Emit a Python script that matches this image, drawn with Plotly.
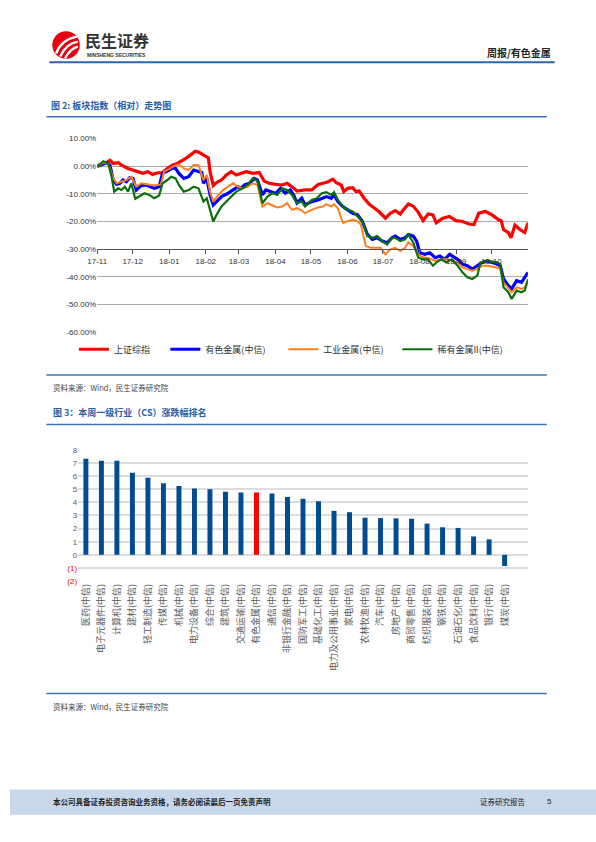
import pandas as pd
import plotly.graph_objects as go

W, H = 596, 842


def fx(x):
    return x / W


def fy(y):
    return 1 - y / H


# ---------------- Chart 1 data (days since 2017-11-01, relative % change) ----------------
start_date = "2017-11-01"

sh_days = [0, 8.1, 10.8, 13.6, 17.8, 20.6, 26.1, 30.3, 34.4, 38.6, 42.8, 46.9, 51.1, 55.3, 59.4, 63.6,
           67.8, 70.6, 74.7, 78.9, 83.1, 85.8, 88.6, 91.4, 94.2, 95.6, 98.3, 101.1, 105.3, 109.4, 113.6,
           117.8, 121.9, 126.1, 131.7, 137.2, 141.4, 145.6, 151.1, 156.7, 160.8, 165, 169.2, 173.3,
           176.1, 181.7, 187.2, 192.8, 195.6, 199.7, 202.5, 206.7, 208.9, 212.2, 216.4, 219.2, 221.9,
           226.1, 230.3, 234.4, 238.6, 244.2, 248.3, 252.5, 256.7, 259.4, 263.6, 267.8, 271.9, 276.1,
           280.3, 284.4, 287.2, 292.8, 298.3, 303.9, 309.4, 315, 319.2, 323.3, 328.9, 334.4, 340,
           342.2, 344.2, 348.3, 350.6, 353.9, 358.1, 362.2, 365]
sh_vals = [0, 1.3, 2.1, 1.0, 1.3, 0.4, -0.8, -1.4, -2.0, -2.6, -2.0, -3.0, -2.4, -2.3, -0.8, 0.4,
           1.0, 1.6, 2.7, 4.0, 5.4, 5.1, 4.3, 3.7, 3.0, -2.0, -7.0, -5.9, -5.0, -3.2, -2.0,
           -3.2, -2.6, -2.0, -2.6, -2.3, -5.4, -6.2, -6.6, -6.8, -6.2, -7.4, -9.0, -8.6,
           -8.6, -8.6, -6.6, -6.0, -5.6, -4.7, -6.0, -6.8, -9.2, -8.0, -7.8, -9.2, -9.0,
           -11.6, -13.7, -15.0, -16.4, -18.8, -17.0, -16.1, -17.3, -15.8, -13.7, -14.5, -16.6, -19.7,
           -17.3, -17.6, -20.5, -18.8, -18.2, -19.7, -20.0, -20.9, -21.1, -17.0, -16.4, -17.6, -19.4,
           -19.7, -22.9, -24.0, -25.9, -21.3, -22.9, -24.0, -20.5]

nf_days = [0, 5.3, 8.1, 10.8, 13.6, 16.4, 19.2, 21.9, 24.7, 27.5, 30.3, 33.1, 37.2, 41.4, 45.6, 48.3,
           52.5, 55.3, 59.4, 63.6, 66.4, 69.2, 73.3, 77.5, 81.7, 85.8, 88.6, 90, 92.8, 95.6, 98.3,
           101.1, 105.3, 110.8, 115, 119.2, 121.9, 124.7, 128.9, 133.1, 135.8, 140, 142.8, 146.9,
           151.1, 155.3, 159.4, 163.6, 166.4, 169.2, 173.3,
           176.1, 181.7, 187.2, 191.4, 194.2, 198.3, 200.6, 203.9, 208.1, 212.2, 216.4, 220.6, 224.7,
           228.9, 233.1, 237.2, 241.4, 245.6, 249.7, 252.5, 256.7, 260.8, 263.6, 267.8,
           270.6, 273.3, 277.5, 281.7, 286.4, 290.3, 294.2, 298.6, 302.5, 305.3, 309.4, 313.6, 317.8,
           322, 326.1, 330.3, 334.4, 338.6, 341.4, 344.2, 348.3, 351.1, 355.3, 359.4, 362.2, 365]
nf_vals = [0, 1.0, 1.3, 0.4, -5.0, -6.6, -6.2, -5.0, -5.6, -4.2, -4.4, -8.6, -7.0, -6.8, -7.4, -8.0,
           -7.4, -2.6, -1.8, -0.6, -0.8, -2.6, -4.4, -3.8, -1.4, -2.0, -2.3, -6.2, -4.4, -10.4, -14.0,
           -12.8, -11.0, -9.8, -8.6, -7.4, -8.0, -6.8, -6.2, -4.4, -5.0, -10.4, -8.6, -9.2,
           -9.8, -8.0, -9.8, -8.6, -10.4, -13.3, -11.6,
           -14.0, -12.8, -12.2, -11.4, -11.0, -11.6, -10.4, -12.8, -14.6, -15.8, -17.0, -17.6, -20.0,
           -24.7, -26.5, -25.9, -27.1, -27.7, -25.9, -25.3, -26.5, -25.9, -24.7, -25.3,
           -27.1, -31.3, -31.9, -31.3, -33.1, -32.5, -33.7, -31.9, -33.1, -33.7, -35.4, -36.0, -37.2,
           -36.0, -34.8, -34.3, -34.8, -35.4, -36.0, -40.8, -43.2, -44.4, -41.4, -42.0, -40.2, -38.4]

im_days = [0, 5.3, 9.4, 13.6, 16.4, 20.6, 24.7, 28.9, 33.1, 37.2, 42.8, 48.3, 53.9, 56.7, 60.8, 65,
           69.2, 73.3, 77.5, 81.7, 85.8, 90, 92.8, 95.6, 98.3, 102.5, 106.7, 110.8, 115, 119.2,
           123.3, 127.5, 131.7, 135.8, 140, 144.2, 148.3, 152.5, 156.7, 160.8, 165, 169.2, 173.3,
           176.1, 181.7, 187.2, 191.4, 194.2, 198.3, 200.6, 203.9, 208.1, 212.2, 216.4, 220.6, 223.3,
           227.5, 231.7, 235.8, 240, 244.2, 248.3, 252.5, 256.7, 260.8, 263.6,
           267.8, 272, 276.1, 280.3, 286.4, 291.4, 297.5, 302.5, 305.3, 309.4, 313.6, 317.8, 322,
           326.1, 330.3, 334.4, 338.6, 341.4, 344.2, 348.3, 351.1, 355.3, 359.4, 362.2, 365]
im_vals = [0, 1.3, 1.0, -4.4, -6.2, -5.6, -5.0, -3.8, -7.4, -6.2, -6.6, -7.0, -6.6, -2.0, -1.1, 0.1,
           0.6, -0.8, -1.4, 0.4, 0.4, -5.0, -3.2, -9.2, -12.8, -10.4, -8.6, -7.4, -6.2, -7.4,
           -8.0, -7.4, -6.2, -6.8, -14.6, -13.4, -14.0, -14.9, -14.6, -13.4, -15.8, -15.2, -16.1,
           -17.0, -15.8, -14.9, -14.6, -13.7, -14.6, -13.7, -15.3, -20.5, -19.9, -19.4, -19.9, -21.1,
           -28.9, -29.5, -29.5, -29.5, -31.9, -30.1, -29.5, -30.7, -29.5, -27.5,
           -28.9, -31.9, -33.1, -33.1, -34.3, -33.7, -33.7, -34.3, -34.8, -36.6, -37.2, -37.8, -37.2,
           -36.0, -36.0, -36.4, -36.6, -36.9, -42.0, -44.4, -45.6, -43.8, -44.4, -43.8, -41.4]

rm_days = [0, 5.3, 9.4, 12.2, 14.4, 17.8, 20.6, 23.3, 26.1, 28.9, 32.2, 35.8, 40, 44.2, 48.3, 52.5,
           55.3, 59.4, 62.8, 66.4, 69.2, 73.3, 77.5, 81.7, 85.8, 90, 92.8, 95.6, 98.3, 101.1,
           105.3, 109.4, 113.6, 117.8, 123.3, 127.5, 131.7, 135.8, 140, 144.2, 148.3, 152.5, 156.7,
           160.8, 165, 169.2, 173.3,
           176.1, 181.7, 186.1, 190.3, 194.2, 198.3, 200.6, 203.9, 208.1, 212.2, 216.4, 220.6, 224.7,
           228.9, 233.1, 237.2, 241.4, 245.6, 249.7, 252.5, 256.7, 260.8, 263.6,
           267.8, 272, 276.1, 280.3, 284.4, 287.5, 291.4, 295.6, 300.3, 305.3, 309.4, 313.6, 317.8,
           322, 324.7, 330.3, 334.4, 338.6, 341.4, 344.2, 348.3, 351.1, 355.3, 359.4, 362.2, 365]
rm_vals = [0, 1.8, 1.0, -3.8, -9.2, -8.0, -8.6, -7.4, -9.2, -6.2, -11.8, -11.0, -9.8, -10.4, -11.6, -10.6,
           -6.2, -5.0, -3.8, -4.4, -6.8, -9.2, -8.6, -7.4, -8.0, -12.8, -11.6, -15.8, -20.0, -17.6,
           -14.6, -12.8, -11.0, -9.2, -8.0, -6.8, -4.4, -5.4, -13.4, -11.0, -9.8, -10.4, -8.0,
           -8.6, -10.4, -13.4, -12.8,
           -14.6, -12.2, -11.6, -9.8, -9.4, -10.4, -9.4, -12.2, -14.6, -15.8, -16.4, -18.2, -20.0,
           -25.3, -25.9, -25.3, -27.1, -28.3, -25.9, -25.9, -27.1, -26.5, -24.7,
           -27.7, -33.1, -33.7, -33.7, -36.0, -34.8, -33.7, -34.8, -33.7, -36.0, -38.4, -40.2, -40.8,
           -39.6, -34.8, -34.3, -34.5, -34.8, -35.4, -43.8, -45.6, -48.0, -45.0, -45.6, -45.0, -40.8]

series_names = ["上证综指", "有色金属(中信)", "工业金属(中信)", "稀有金属II(中信)"]
y1_ticks = [10, 0, -10, -20, -30, -40, -50, -60]
y1_ticklabels = ["10.00%", "0.00%", "-10.00%", "-20.00%", "-30.00%", "-40.00%", "-50.00%", "-60.00%"]

# ---------------- Chart 2 data ----------------
industries = ["医药(中信)", "电子元器件(中信)", "计算机(中信)", "建材(中信)", "轻工制造(中信)",
              "传媒(中信)", "机械(中信)", "电力设备(中信)", "综合(中信)", "建筑(中信)",
              "交通运输(中信)", "有色金属(中信)", "通信(中信)", "非银行金融(中信)", "国防军工(中信)",
              "基础化工(中信)", "电力及公用事业(中信)", "家电(中信)", "农林牧渔(中信)", "汽车(中信)",
              "房地产(中信)", "商贸零售(中信)", "纺织服装(中信)", "钢铁(中信)", "石油石化(中信)",
              "食品饮料(中信)", "银行(中信)", "煤炭(中信)"]
weekly_change = [7.33, 7.18, 7.18, 6.25, 5.88, 5.45, 5.25, 5.05, 5.0, 4.8,
                 4.75, 4.75, 4.68, 4.4, 4.28, 4.08, 3.35, 3.25, 2.83, 2.8,
                 2.78, 2.75, 2.38, 2.1, 2.05, 1.4, 1.18, -0.85]
y2_tickvals = [8, 7, 6, 5, 4, 3, 2, 1, 0, -1, -2]
y2_ticktext = ["8", "7", "6", "5", "4", "3", "2", "1", "0",
               "<span style='color:#FF0000'>(1)</span>", "<span style='color:#FF0000'>(2)</span>"]

# ---------------- Figure ----------------
t0 = pd.Timestamp(start_date)


def to_dates(days):
    return [t0 + pd.Timedelta(days=d) for d in days]


fig = go.Figure()

line_specs = [
    (sh_days, sh_vals, "#FF0000", 3.2, "legend"),
    (nf_days, nf_vals, "#0000FF", 3.2, "legend2"),
    (im_days, im_vals, "#FF7F1E", 2.0, "legend3"),
    (rm_days, rm_vals, "#0A700A", 2.2, "legend4"),
]
for name, (d, v, c, w, lg) in zip(series_names, line_specs):
    fig.add_trace(go.Scatter(
        x=to_dates(d), y=v, mode="lines", name=name,
        line=dict(color=c, width=w, shape="linear"),
        xaxis="x", yaxis="y", legend=lg, showlegend=True,
    ))

bar_colors = ["#FF0000" if n == "有色金属(中信)" else "#004C93" for n in industries]
fig.add_trace(go.Bar(
    x=industries, y=weekly_change, marker=dict(color=bar_colors, line=dict(width=0)),
    xaxis="x2", yaxis="y2", showlegend=False,
))

num_font = dict(family="Liberation Sans, Arial, sans-serif", size=8, color="#333333")
cjk = "Noto Sans CJK SC, sans-serif"

# chart 1 geometry
c1_left, c1_right = 88.7, 526.7
c1_top, c1_bottom = 136.0, 331.6
axis_y_px = 248.0

fig.update_layout(
    width=W, height=H,
    margin=dict(l=0, r=0, t=0, b=0),
    paper_bgcolor="white", plot_bgcolor="white",
    bargap=0.68,
    xaxis=dict(
        domain=[fx(c1_left), fx(c1_right)],
        anchor="free", position=fy(axis_y_px),
        type="date", range=["2017-11-01", "2018-10-31 20:00"],
        dtick="M1", tick0="2017-11-01", tickformat="%y-%m",
        ticks="outside", ticklen=4, tickcolor="#555555",
        showline=True, linecolor="#555555", linewidth=1.2,
        showgrid=False, zeroline=False, tickfont=num_font,
    ),
    yaxis=dict(
        domain=[fy(c1_bottom), fy(c1_top)],
        range=[-60, 10], tickvals=y1_ticks, ticktext=y1_ticklabels,
        showgrid=True, gridcolor="#ABABAB", gridwidth=1,
        zeroline=False, showline=False, ticks="", tickfont=num_font,
    ),
    xaxis2=dict(
        domain=[fx(69.3), fx(526.7)], anchor="y2",
        type="category", range=[-0.5, 28.5],
        tickangle=-90, showgrid=False, showline=False, ticks="", zeroline=False,
        tickfont=dict(family=cjk, size=9, color="#595959"),
    ),
    yaxis2=dict(
        domain=[fy(583.3), fy(450.7)], anchor="x2",
        range=[-2, 8], tickvals=y2_tickvals, ticktext=y2_ticktext,
        showgrid=True, gridcolor="#DCDCDC", gridwidth=1.5,
        zeroline=False, showline=False, ticks="",
        tickfont=dict(family="Liberation Sans, Arial, sans-serif", size=8, color="#595959"),
    ),
)

legend_common = dict(
    orientation="h", yanchor="middle", xanchor="left", y=fy(349),
    bgcolor="rgba(0,0,0,0)", borderwidth=0,
    font=dict(family=cjk, size=9, color="#333333"),
)
fig.update_layout(
    legend=dict(x=fx(65), **legend_common),
    legend2=dict(x=fx(158), **legend_common),
    legend3=dict(x=fx(278), **legend_common),
    legend4=dict(x=fx(394), **legend_common),
)

shapes = []
annotations = []


def hline(y, x0, x1, color, width):
    shapes.append(dict(type="line", xref="paper", yref="paper", x0=fx(x0), x1=fx(x1),
                       y0=fy(y), y1=fy(y), line=dict(color=color, width=width), layer="above"))


def text(x, y, s, size, color, family=cjk, xanchor="left", bold=False):
    if bold:
        s = "<b>" + s + "</b>"
    annotations.append(dict(xref="paper", yref="paper", x=fx(x), y=fy(y), text=s,
                            showarrow=False, xanchor=xanchor, yanchor="middle",
                            font=dict(family=family, size=size, color=color)))


# header
shapes.append(dict(type="circle", xref="paper", yref="paper",
                   x0=fx(43), x1=fx(71), y0=fy(55.5), y1=fy(27.5),
                   fillcolor="#E60012", line=dict(width=0)))
for (ax, ay, cx, cy, bx, by) in [(47, 50, 52, 36, 68, 33), (51, 53, 57, 40, 69, 38), (56, 55, 61, 45, 69, 43)]:
    shapes.append(dict(type="path", xref="paper", yref="paper",
                       path=f"M {fx(ax)},{fy(ay)} Q {fx(cx)},{fy(cy)} {fx(bx)},{fy(by)}",
                       line=dict(color="white", width=2.4)))
text(74, 36.5, "民生证券", 16, "#333333", bold=True)
text(76, 51.5, "MINSHENG SECURITIES", 5, "#333333", family="Liberation Sans, Arial", bold=True)
text(552, 49.5, "周报/有色金属", 10, "#222222", xanchor="right", bold=True)
hline(59, 40, 554, "#2B66A8", 2)

# chart 1 frame
text(40, 102.5, "图 2: 板块指数（相对）走势图", 9, "#1F5EA8", bold=True)
hline(114, 37, 546, "#3C73B0", 1.5)
hline(375, 37, 546, "#3C73B0", 1.5)
text(42, 387.5, "资料来源：Wind，民生证券研究院", 7.5, "#444444")

# chart 2 frame
text(42, 412.5, "图 3：本周一级行业（CS）涨跌幅排名", 9, "#1F5EA8", bold=True)
hline(425, 37, 546, "#3C73B0", 1.5)
hline(697, 37, 546, "#3C73B0", 1.5)
text(42, 710, "资料来源：Wind，民生证券研究院", 7.5, "#444444")

# footer
shapes.append(dict(type="rect", xref="paper", yref="paper", x0=0, x1=1, y0=fy(819.5), y1=fy(794),
                   fillcolor="#C8D7EA", line=dict(width=0), layer="below"))
text(42, 806.5, "本公司具备证券投资咨询业务资格，请务必阅读最后一页免责声明", 7.5, "#222222", bold=True)
text(527, 806.5, "证券研究报告", 7.5, "#222222", xanchor="right")
text(553, 806.5, "5", 8, "#222222", family="Liberation Sans, Arial", xanchor="right")

fig.update_layout(shapes=shapes, annotations=annotations)

fig.write_html("out.html", config={"displayModeBar": False},
               post_script="document.body.style.margin='0';document.body.style.overflow='hidden';")
